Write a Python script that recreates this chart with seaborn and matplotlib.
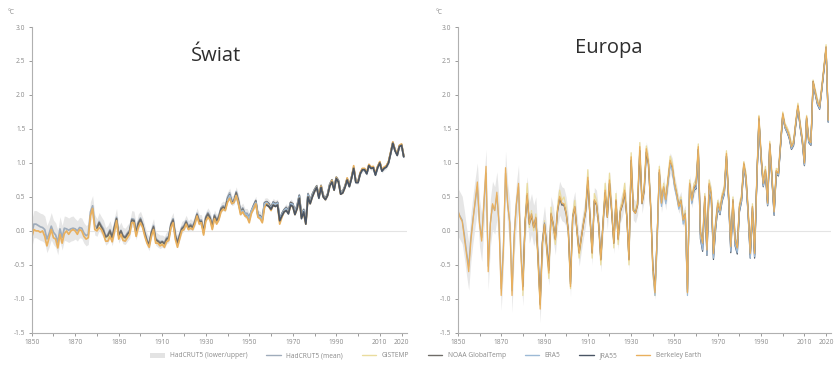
import numpy as np
import pandas as pd
import matplotlib
matplotlib.use('Agg')
import matplotlib.pyplot as plt
from matplotlib.lines import Line2D
from matplotlib.patches import Patch
import seaborn as sns

# annual anomalies (degC vs 1850-1900)
years_all = list(range(1850, 2022))
years_1880 = list(range(1880, 2022))
years_1940 = list(range(1940, 2022))
years_1958 = list(range(1958, 2022))

world_hadcrut = [
    -0.05, 0.10, 0.10, 0.08, 0.06, 0.05, 0.02, -0.12, -0.04, 0.07,
    -0.02, -0.06, -0.17, 0.03, -0.10, 0.04, 0.03, 0.01, 0.03, 0.04,
    0.03, 0.00, 0.05, 0.04, -0.03, -0.07, -0.05, 0.28, 0.37, 0.09,
    0.05, 0.14, 0.08, 0.03, -0.08, -0.05, 0.02, -0.09, 0.07, 0.20,
    -0.06, 0.01, -0.07, -0.08, -0.03, 0.01, 0.18, 0.17, -0.01, 0.13,
    0.19, 0.10, -0.02, -0.13, -0.19, -0.01, 0.08, -0.11, -0.14, -0.16,
    -0.15, -0.17, -0.10, -0.08, 0.11, 0.18, -0.05, -0.16, -0.05, 0.05,
    0.08, 0.15, 0.07, 0.10, 0.07, 0.15, 0.26, 0.16, 0.16, 0.00,
    0.21, 0.27, 0.21, 0.08, 0.24, 0.17, 0.22, 0.34, 0.37, 0.35,
    0.50, 0.56, 0.44, 0.46, 0.58, 0.46, 0.30, 0.34, 0.26, 0.26,
    0.20, 0.30, 0.38, 0.45, 0.24, 0.23, 0.18, 0.42, 0.43, 0.40,
    0.34, 0.43, 0.40, 0.42, 0.17, 0.26, 0.31, 0.35, 0.29, 0.42,
    0.40, 0.29, 0.38, 0.53, 0.22, 0.32, 0.14, 0.55, 0.44, 0.54,
    0.60, 0.66, 0.50, 0.66, 0.52, 0.48, 0.54, 0.68, 0.74, 0.62,
    0.78, 0.74, 0.56, 0.58, 0.65, 0.76, 0.66, 0.78, 0.92, 0.72,
    0.72, 0.84, 0.90, 0.90, 0.84, 0.96, 0.92, 0.93, 0.83, 0.93,
    1.00, 0.88, 0.92, 0.94, 1.00, 1.14, 1.29, 1.18, 1.12, 1.24,
    1.26, 1.09]
world_berkeley = [
    -0.10, 0.02, 0.00, 0.00, -0.02, 0.00, -0.08, -0.22, -0.10, 0.02,
    -0.10, -0.12, -0.25, -0.05, -0.18, -0.04, 0.00, -0.05, 0.00, 0.02,
    0.00, -0.05, 0.02, 0.00, -0.08, -0.12, -0.10, 0.22, 0.33, 0.02,
    0.00, 0.05, 0.02, -0.05, -0.15, -0.15, -0.08, -0.16, -0.02, 0.15,
    -0.12, -0.05, -0.14, -0.15, -0.10, -0.05, 0.12, 0.12, -0.08, 0.05,
    0.12, 0.05, -0.08, -0.18, -0.24, -0.08, 0.02, -0.18, -0.18, -0.22,
    -0.20, -0.24, -0.16, -0.14, 0.05, 0.12, -0.12, -0.24, -0.12, 0.00,
    0.02, 0.10, 0.02, 0.04, 0.02, 0.10, 0.22, 0.10, 0.12, -0.06,
    0.14, 0.20, 0.16, 0.02, 0.18, 0.10, 0.16, 0.28, 0.32, 0.30,
    0.42, 0.48, 0.40, 0.42, 0.52, 0.40, 0.24, 0.28, 0.22, 0.20,
    0.12, 0.26, 0.32, 0.40, 0.20, 0.18, 0.12, 0.34, 0.40, 0.36,
    0.30, 0.38, 0.36, 0.38, 0.10, 0.20, 0.28, 0.30, 0.26, 0.36,
    0.36, 0.24, 0.32, 0.48, 0.20, 0.26, 0.10, 0.50, 0.40, 0.50,
    0.58, 0.64, 0.50, 0.66, 0.50, 0.46, 0.52, 0.66, 0.74, 0.60,
    0.78, 0.72, 0.54, 0.56, 0.64, 0.78, 0.66, 0.78, 0.96, 0.72,
    0.72, 0.86, 0.92, 0.92, 0.86, 0.98, 0.94, 0.95, 0.84, 0.95,
    1.02, 0.90, 0.94, 0.96, 1.02, 1.16, 1.31, 1.20, 1.12, 1.26,
    1.28, 1.10]
world_gistemp = [
    0.02, 0.10, 0.05, -0.02, -0.10, -0.10, -0.05, -0.12, 0.02, 0.18,
    -0.08, -0.02, -0.10, -0.12, -0.08, -0.03, 0.14, 0.13, -0.04, 0.08,
    0.15, 0.08, -0.05, -0.16, -0.22, -0.05, 0.04, -0.15, -0.16, -0.20,
    -0.18, -0.20, -0.14, -0.12, 0.07, 0.14, -0.08, -0.20, -0.10, 0.02,
    0.05, 0.12, 0.04, 0.06, 0.04, 0.12, 0.24, 0.12, 0.14, -0.04,
    0.18, 0.24, 0.18, 0.04, 0.20, 0.12, 0.18, 0.30, 0.34, 0.32,
    0.44, 0.50, 0.42, 0.44, 0.54, 0.42, 0.26, 0.30, 0.24, 0.22,
    0.16, 0.28, 0.35, 0.42, 0.22, 0.20, 0.14, 0.38, 0.41, 0.38,
    0.32, 0.40, 0.38, 0.40, 0.14, 0.22, 0.29, 0.32, 0.27, 0.39,
    0.38, 0.26, 0.34, 0.50, 0.20, 0.28, 0.12, 0.52, 0.42, 0.52,
    0.60, 0.66, 0.50, 0.66, 0.51, 0.47, 0.53, 0.67, 0.75, 0.61,
    0.79, 0.73, 0.55, 0.57, 0.65, 0.77, 0.66, 0.78, 0.94, 0.72,
    0.72, 0.85, 0.91, 0.91, 0.85, 0.97, 0.93, 0.94, 0.83, 0.94,
    1.01, 0.89, 0.93, 0.95, 1.01, 1.15, 1.30, 1.19, 1.12, 1.25,
    1.27, 1.10]
world_noaa = [
    0.04, 0.12, 0.06, 0.00, -0.09, -0.07, 0.00, -0.10, 0.05, 0.18,
    -0.07, 0.00, -0.08, -0.10, -0.05, -0.01, 0.16, 0.15, -0.03, 0.11,
    0.17, 0.09, -0.04, -0.15, -0.20, -0.03, 0.06, -0.13, -0.15, -0.18,
    -0.16, -0.19, -0.12, -0.10, 0.09, 0.16, -0.07, -0.18, -0.07, 0.03,
    0.06, 0.13, 0.05, 0.08, 0.05, 0.13, 0.24, 0.14, 0.14, -0.02,
    0.19, 0.25, 0.19, 0.06, 0.22, 0.15, 0.20, 0.32, 0.35, 0.33,
    0.47, 0.53, 0.42, 0.44, 0.56, 0.44, 0.28, 0.32, 0.24, 0.24,
    0.18, 0.29, 0.37, 0.44, 0.23, 0.22, 0.16, 0.41, 0.43, 0.40,
    0.34, 0.42, 0.40, 0.42, 0.16, 0.25, 0.31, 0.34, 0.29, 0.42,
    0.40, 0.28, 0.37, 0.52, 0.22, 0.31, 0.13, 0.54, 0.44, 0.54,
    0.61, 0.66, 0.51, 0.67, 0.52, 0.48, 0.54, 0.69, 0.75, 0.62,
    0.79, 0.74, 0.57, 0.59, 0.66, 0.77, 0.67, 0.79, 0.93, 0.73,
    0.73, 0.85, 0.91, 0.91, 0.85, 0.97, 0.93, 0.94, 0.84, 0.94,
    1.01, 0.89, 0.93, 0.95, 1.01, 1.15, 1.30, 1.19, 1.13, 1.25,
    1.27, 1.10]
world_era5 = [
    0.45, 0.52, 0.40, 0.42, 0.52, 0.40, 0.28, 0.30, 0.25, 0.24,
    0.18, 0.30, 0.36, 0.42, 0.22, 0.21, 0.16, 0.40, 0.42, 0.38,
    0.33, 0.41, 0.39, 0.41, 0.16, 0.24, 0.30, 0.33, 0.28, 0.40,
    0.39, 0.28, 0.36, 0.51, 0.21, 0.30, 0.13, 0.53, 0.43, 0.53,
    0.60, 0.65, 0.50, 0.66, 0.51, 0.47, 0.53, 0.68, 0.74, 0.61,
    0.78, 0.73, 0.56, 0.58, 0.65, 0.76, 0.66, 0.78, 0.93, 0.72,
    0.72, 0.85, 0.91, 0.90, 0.85, 0.97, 0.93, 0.94, 0.83, 0.94,
    1.01, 0.89, 0.93, 0.95, 1.01, 1.15, 1.30, 1.19, 1.12, 1.25,
    1.27, 1.10]
world_jra55 = [
    0.38, 0.36, 0.32, 0.38, 0.36, 0.38, 0.15, 0.22, 0.28, 0.30, 0.25, 0.38,
    0.36, 0.24, 0.33, 0.48, 0.18, 0.28, 0.10, 0.50, 0.40, 0.50,
    0.58, 0.64, 0.48, 0.64, 0.50, 0.46, 0.52, 0.66, 0.72, 0.60,
    0.77, 0.72, 0.54, 0.56, 0.64, 0.75, 0.65, 0.77, 0.92, 0.71,
    0.71, 0.84, 0.90, 0.90, 0.84, 0.96, 0.92, 0.93, 0.82, 0.93,
    1.00, 0.88, 0.92, 0.94, 1.00, 1.14, 1.29, 1.18, 1.11, 1.24,
    1.26, 1.09]
# half width of the HadCRUT5 envelope, per decade 1850s..2020s
world_spread = [0.20, 0.18, 0.15, 0.13, 0.12, 0.10, 0.09, 0.08, 0.07,
                0.07, 0.06, 0.05, 0.04, 0.04, 0.03, 0.03, 0.03, 0.03]

europe_berkeley = [
    0.31, 0.20, 0.14, -0.10, -0.35, -0.60, -0.15, 0.16, 0.45, 0.72,
    0.10, -0.15, 0.40, 0.95, -0.60, 0.10, 0.40, 0.30, 0.57, 0.10,
    -0.95, -0.30, 0.93, 0.40, 0.10, -0.95, -0.10, 0.40, 0.70, -0.30,
    -0.87, 0.10, 0.55, 0.10, 0.25, 0.05, 0.20, -0.40, -1.15, -0.20,
    0.10, -0.25, -0.62, 0.26, 0.10, -0.13, 0.30, 0.51, 0.41, 0.40,
    0.26, 0.00, -0.82, 0.20, 0.36, 0.00, -0.33, -0.10, 0.11, 0.30,
    0.79, 0.20, -0.33, 0.46, 0.40, 0.10, -0.43, 0.10, 0.60, 0.20,
    0.75, 0.30, -0.18, 0.46, -0.13, 0.30, 0.40, 0.60, 0.20, -0.43,
    1.09, 0.30, 0.26, 0.40, 1.24, 0.41, 0.60, 1.21, 1.00, 0.35,
    -0.55, -0.91, -0.10, 0.90, 0.41, 0.65, 0.46, 0.75, 1.04, 0.95,
    0.70, 0.55, 0.36, 0.45, 0.16, 0.25, -0.91, 0.70, 0.45, 0.65,
    0.70, 1.24, -0.03, -0.18, 0.51, -0.28, 0.70, 0.55, -0.33, 0.10,
    0.41, 0.30, 0.51, 0.60, 1.14, 0.50, -0.23, 0.46, -0.13, -0.25,
    0.36, 0.50, 1.00, 0.80, 0.30, -0.33, 0.36, -0.33, 0.75, 1.68,
    1.10, 0.70, 0.90, 0.41, 1.29, 0.80, 0.28, 0.89, 0.85, 1.30,
    1.73, 1.55, 1.49, 1.40, 1.24, 1.30, 1.60, 1.85, 1.57, 1.35,
    1.00, 1.68, 1.34, 1.30, 2.20, 2.05, 1.90, 1.83, 2.10, 2.40,
    2.71, 1.63]
europe_hadcrut = [
    0.28, 0.22, 0.16, -0.05, -0.30, -0.52, -0.10, 0.18, 0.42, 0.65,
    0.12, -0.10, 0.38, 0.85, -0.52, 0.12, 0.38, 0.30, 0.52, 0.12,
    -0.85, -0.25, 0.85, 0.38, 0.12, -0.88, -0.05, 0.38, 0.65, -0.25,
    -0.80, 0.12, 0.50, 0.12, 0.25, 0.08, 0.20, -0.35, -1.05, -0.15,
    0.12, -0.20, -0.55, 0.26, 0.12, -0.10, 0.30, 0.48, 0.40, 0.38,
    0.28, 0.02, -0.75, 0.22, 0.36, 0.02, -0.30, -0.08, 0.12, 0.30,
    0.72, 0.22, -0.30, 0.44, 0.40, 0.12, -0.40, 0.12, 0.56, 0.22,
    0.70, 0.30, -0.15, 0.44, -0.10, 0.30, 0.40, 0.56, 0.22, -0.40,
    1.02, 0.32, 0.28, 0.40, 1.18, 0.42, 0.60, 1.15, 0.98, 0.36,
    -0.50, -0.86, -0.08, 0.86, 0.42, 0.64, 0.46, 0.74, 1.00, 0.92,
    0.70, 0.55, 0.38, 0.46, 0.18, 0.26, -0.86, 0.70, 0.46, 0.64,
    0.70, 1.20, 0.00, -0.15, 0.50, -0.24, 0.68, 0.55, -0.30, 0.12,
    0.41, 0.30, 0.50, 0.60, 1.10, 0.50, -0.20, 0.46, -0.10, -0.20,
    0.36, 0.50, 0.98, 0.80, 0.30, -0.30, 0.36, -0.30, 0.74, 1.64,
    1.10, 0.70, 0.90, 0.42, 1.27, 0.80, 0.30, 0.88, 0.85, 1.30,
    1.70, 1.54, 1.48, 1.40, 1.25, 1.30, 1.58, 1.82, 1.56, 1.36,
    1.02, 1.66, 1.34, 1.30, 2.16, 2.04, 1.90, 1.83, 2.10, 2.38,
    2.68, 1.64]
europe_gistemp = [
    -0.95, 0.15, 0.70, 0.05, 0.30, 0.00, 0.25, -0.50, -1.10, -0.25,
    0.15, -0.30, -0.70, 0.35, 0.05, -0.20, 0.35, 0.60, 0.45, 0.50,
    0.35, -0.05, -0.85, 0.25, 0.45, -0.05, -0.40, -0.15, 0.15, 0.35,
    0.90, 0.15, -0.40, 0.55, 0.45, 0.05, -0.50, 0.15, 0.70, 0.25,
    0.85, 0.35, -0.25, 0.55, -0.20, 0.35, 0.45, 0.70, 0.25, -0.50,
    1.15, 0.35, 0.30, 0.45, 1.30, 0.45, 0.65, 1.25, 1.05, 0.40,
    -0.60, -0.95, -0.15, 0.95, 0.45, 0.70, 0.50, 0.80, 1.10, 1.00,
    0.75, 0.60, 0.40, 0.50, 0.20, 0.30, -0.90, 0.75, 0.50, 0.70,
    0.75, 1.28, 0.00, -0.12, 0.55, -0.22, 0.75, 0.60, -0.28, 0.15,
    0.45, 0.35, 0.55, 0.65, 1.18, 0.55, -0.18, 0.50, -0.10, -0.20,
    0.40, 0.55, 1.02, 0.85, 0.35, -0.28, 0.40, -0.30, 0.78, 1.70,
    1.15, 0.75, 0.95, 0.45, 1.32, 0.85, 0.32, 0.92, 0.90, 1.34,
    1.75, 1.58, 1.52, 1.44, 1.28, 1.34, 1.62, 1.88, 1.60, 1.38,
    1.04, 1.70, 1.38, 1.32, 2.22, 2.08, 1.94, 1.86, 2.14, 2.42,
    2.74, 1.66]
europe_noaa = [
    -0.82, 0.10, 0.52, 0.10, 0.22, 0.05, 0.18, -0.38, -1.08, -0.18,
    0.10, -0.22, -0.58, 0.24, 0.10, -0.12, 0.28, 0.48, 0.38, 0.38,
    0.25, 0.00, -0.78, 0.20, 0.34, 0.00, -0.32, -0.10, 0.10, 0.28,
    0.74, 0.20, -0.32, 0.44, 0.38, 0.10, -0.42, 0.10, 0.56, 0.20,
    0.70, 0.28, -0.18, 0.44, -0.12, 0.28, 0.38, 0.56, 0.20, -0.42,
    1.04, 0.30, 0.26, 0.38, 1.18, 0.40, 0.58, 1.16, 0.98, 0.34,
    -0.52, -0.88, -0.10, 0.86, 0.40, 0.62, 0.44, 0.72, 1.00, 0.92,
    0.68, 0.53, 0.36, 0.44, 0.15, 0.24, -0.90, 0.68, 0.44, 0.62,
    0.68, 1.20, -0.05, -0.20, 0.48, -0.30, 0.66, 0.52, -0.35, 0.08,
    0.38, 0.28, 0.48, 0.58, 1.10, 0.48, -0.25, 0.44, -0.15, -0.26,
    0.34, 0.48, 0.98, 0.78, 0.28, -0.35, 0.34, -0.35, 0.73, 1.65,
    1.08, 0.68, 0.88, 0.40, 1.27, 0.78, 0.26, 0.87, 0.84, 1.28,
    1.71, 1.53, 1.47, 1.38, 1.22, 1.28, 1.58, 1.83, 1.55, 1.33,
    0.98, 1.66, 1.32, 1.28, 2.18, 2.03, 1.88, 1.81, 2.08, 2.38,
    2.69, 1.61]
europe_era5 = [
    -0.60, -0.95, -0.20, 0.82, 0.36, 0.60, 0.40, 0.70, 0.98, 0.88,
    0.64, 0.50, 0.32, 0.40, 0.10, 0.20, -0.95, 0.64, 0.40, 0.60,
    0.64, 1.16, -0.10, -0.28, 0.44, -0.35, 0.62, 0.48, -0.40, 0.04,
    0.35, 0.25, 0.45, 0.55, 1.08, 0.45, -0.30, 0.40, -0.20, -0.32,
    0.30, 0.45, 0.95, 0.75, 0.25, -0.40, 0.30, -0.38, 0.70, 1.62,
    1.06, 0.66, 0.86, 0.38, 1.25, 0.76, 0.24, 0.85, 0.82, 1.26,
    1.70, 1.52, 1.46, 1.37, 1.21, 1.27, 1.57, 1.82, 1.54, 1.32,
    0.97, 1.65, 1.31, 1.27, 2.18, 2.02, 1.87, 1.80, 2.08, 2.37,
    2.70, 1.60]
europe_jra55 = [
    0.42, 0.60, 0.62, 1.15, -0.12, -0.30, 0.42, -0.36, 0.60, 0.46, -0.42, 0.02,
    0.34, 0.24, 0.44, 0.54, 1.06, 0.44, -0.32, 0.38, -0.22, -0.34,
    0.28, 0.44, 0.94, 0.74, 0.24, -0.40, 0.28, -0.40, 0.70, 1.62,
    1.05, 0.65, 0.85, 0.37, 1.24, 0.75, 0.23, 0.84, 0.81, 1.25,
    1.70, 1.52, 1.45, 1.36, 1.20, 1.26, 1.56, 1.82, 1.53, 1.31,
    0.96, 1.64, 1.30, 1.26, 2.20, 2.01, 1.86, 1.79, 2.07, 2.36,
    2.70, 1.60]
europe_spread = [0.35, 0.35, 0.32, 0.30, 0.25, 0.22, 0.20, 0.18, 0.16,
                 0.15, 0.12, 0.10, 0.08, 0.07, 0.06, 0.06, 0.05, 0.05]

x_ticks = list(range(1850, 2021, 10))
x_labels = [str(y) if (y - 1850) % 20 == 0 or y == 2020 else '' for y in x_ticks]
y_ticks = [-1.5, -1.0, -0.5, 0.0, 0.5, 1.0, 1.5, 2.0, 2.5, 3.0]

colors = {
    'HadCRUT5 (mean)': '#9facbb',
    'GISTEMP': '#eadc9e',
    'NOAA GlobalTemp': '#6f6c68',
    'ERA5': '#9dbad6',
    'JRA55': '#4a5564',
    'Berkeley Earth': '#e9b05e',
}


def long_frame(series):
    parts = []
    for name, (yrs, vals) in series.items():
        parts.append(pd.DataFrame({'year': yrs, 'anomaly': vals, 'dataset': name}))
    return pd.concat(parts, ignore_index=True)


sns.set_theme(style='white')
plt.rcParams['font.family'] = ['Open Sans', 'DejaVu Sans']

fig = plt.figure(figsize=(8.34, 3.65), dpi=100)
ax1 = fig.add_axes([0.038, 0.088, 0.450, 0.838])
ax2 = fig.add_axes([0.549, 0.088, 0.448, 0.838])

panels = [
    (ax1, 'Świat', (0.49, 0.905), world_hadcrut, world_spread, 1.25, {
        'HadCRUT5 (mean)': (years_all, world_hadcrut),
        'GISTEMP': (years_1880, world_gistemp),
        'NOAA GlobalTemp': (years_1880, world_noaa),
        'ERA5': (years_1940, world_era5),
        'JRA55': (years_1958, world_jra55),
        'Berkeley Earth': (years_all, world_berkeley),
    }, ['GISTEMP', 'HadCRUT5 (mean)', 'NOAA GlobalTemp', 'ERA5',
        'Berkeley Earth', 'JRA55']),
    (ax2, 'Europa', (0.405, 0.93), europe_hadcrut, europe_spread, 0.9, {
        'HadCRUT5 (mean)': (years_all, europe_hadcrut),
        'GISTEMP': (years_1880, europe_gistemp),
        'NOAA GlobalTemp': (years_1880, europe_noaa),
        'ERA5': (years_1940, europe_era5),
        'JRA55': (years_1958, europe_jra55),
        'Berkeley Earth': (years_all, europe_berkeley),
    }, ['GISTEMP', 'HadCRUT5 (mean)', 'NOAA GlobalTemp', 'JRA55', 'ERA5',
        'Berkeley Earth']),
]

for ax, title, tpos, mean, spread, lw, series, order in panels:
    half = np.repeat(spread, 10)[:len(years_all)]
    ax.axhline(0, color='#e4e4e4', lw=0.8, zorder=0)
    ax.fill_between(years_all, np.array(mean) - half, np.array(mean) + half,
                    color='#e6e6e6', lw=0, zorder=1)
    df = long_frame(series)
    sns.lineplot(data=df, x='year', y='anomaly', hue='dataset', hue_order=order,
                 palette=colors, linewidth=lw, ax=ax, legend=False, zorder=2)
    ax.set_xlim(1850, 2022.5)
    ax.set_ylim(-1.5, 3.0)
    ax.set_xticks(x_ticks)
    ax.set_xticklabels(x_labels)
    ax.set_yticks(y_ticks)
    ax.set_yticklabels([f'{v:.1f}' for v in y_ticks])
    ax.set_xlabel('')
    ax.set_ylabel('')
    ax.tick_params(axis='both', labelsize=4.8, colors='#8a8a8a', length=2.5,
                   width=0.6, pad=2, bottom=True, left=True)
    for side in ['top', 'right']:
        ax.spines[side].set_visible(False)
    for side in ['left', 'bottom']:
        ax.spines[side].set_color('#b0b0b0')
        ax.spines[side].set_linewidth(0.8)
    ax.text(tpos[0], tpos[1], title, transform=ax.transAxes, ha='center',
            va='center', fontsize=14.5, color='#2e2e2e')

fig.text(8 / 834, 1 - 12 / 365, '°C', fontsize=4.8, color='#8a8a8a', va='center')
fig.text(436 / 834, 1 - 12 / 365, '°C', fontsize=4.8, color='#8a8a8a', va='center')

handles = [Patch(facecolor='#e3e3e3', edgecolor='none')]
labels = ['HadCRUT5 (lower/upper)']
for name in ['HadCRUT5 (mean)', 'GISTEMP', 'NOAA GlobalTemp', 'ERA5', 'JRA55',
             'Berkeley Earth']:
    handles.append(Line2D([0], [0], color=colors[name], lw=1.0))
    labels.append(name)
fig.legend(handles, labels, loc='center', bbox_to_anchor=(0.51, 0.025), ncol=7,
           frameon=False, fontsize=4.8, handlelength=2.2, handleheight=0.8,
           columnspacing=2.8, labelcolor='#8a8a8a')

fig.savefig('out.png', dpi=100, facecolor='white')
